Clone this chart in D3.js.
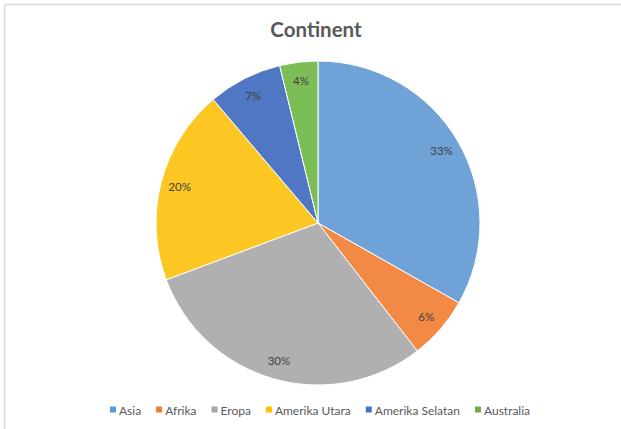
<!DOCTYPE html>
<html>
<head>
<meta charset="utf-8">
<script src="https://cdn.jsdelivr.net/npm/d3@7"></script>
<style>
  html, body { margin: 0; padding: 0; background: #fff; }
  svg { display: block; font-family: Lato, "Open Sans", sans-serif; }
</style>
</head>
<body>
<svg id="chart" width="621" height="429"></svg>
<script>
// data (share of the pie, in percent)
const continents = ['Asia', 'Afrika', 'Eropa', 'Amerika Utara', 'Amerika Selatan', 'Australia'];
const shares = [33.2, 6.3, 29.8, 19.5, 7.4, 3.8];
const light = ['#6fa3d8', '#f28a45', '#b0b0b0', '#fcc623', '#4f77c3', '#7dbd55'];
const dark = ['#4583c3', '#e36e22', '#979797', '#eebb00', '#3a61ab', '#62a33c'];
const swatch = ['#5b9bd5', '#ed7d31', '#a5a5a5', '#ffc000', '#4472c4', '#70ad47'];

const W = 621, H = 429;
const CX = 318, CY = 223, R = 162;

const svg = d3.select('#chart');

// light frame on top and left, like the cropped screenshot
svg.append('line').attr('x1', 4.5).attr('y1', 4.5).attr('x2', W).attr('y2', 4.5)
    .attr('stroke', '#d9d9d9').attr('stroke-width', 1.5);
svg.append('line').attr('x1', 4.5).attr('y1', 4.5).attr('x2', 4.5).attr('y2', H)
    .attr('stroke', '#d9d9d9').attr('stroke-width', 1.5);

svg.append('text')
    .attr('x', 316).attr('y', 37)
    .attr('text-anchor', 'middle')
    .attr('font-size', 20.5).attr('font-weight', 700)
    .attr('fill', '#595959')
    .text('Continent');

const data = continents.map((name, i) => ({name, value: shares[i], i}));
const total = d3.sum(shares);

// soft top-left to bottom-right shading on every slice
const defs = svg.append('defs');
data.forEach(d => {
    let g = defs.append('linearGradient')
        .attr('id', 'g' + d.i)
        .attr('gradientUnits', 'userSpaceOnUse')
        .attr('x1', CX - R * 0.7).attr('y1', CY - R * 0.7)
        .attr('x2', CX + R * 0.7).attr('y2', CY + R * 0.7);
    g.append('stop').attr('offset', '0%').attr('stop-color', light[d.i]);
    g.append('stop').attr('offset', '100%').attr('stop-color', dark[d.i]);
});

const pie = d3.pie().sort(null).value(d => d.value);
const arc = d3.arc().innerRadius(0).outerRadius(R);
const labelArc = d3.arc().innerRadius(143).outerRadius(143);

const slices = svg.append('g').attr('transform', `translate(${CX},${CY})`);
const arcs = pie(data);

slices.selectAll('path')
    .data(arcs)
    .join('path')
    .attr('d', arc)
    .attr('fill', d => `url(#g${d.data.i})`)
    .attr('stroke', '#fff')
    .attr('stroke-width', 1);

slices.selectAll('text')
    .data(arcs)
    .join('text')
    .attr('transform', d => `translate(${labelArc.centroid(d)})`)
    .attr('text-anchor', 'middle')
    .attr('dy', '0.35em')
    .attr('font-size', 11.5)
    .attr('fill', '#404040')
    .text(d => d3.format('.0%')(d.data.value / total));

// legend, laid out from measured text widths and centred under the pie
const legend = svg.append('g');
const items = legend.selectAll('g')
    .data(data)
    .join('g');
items.append('rect')
    .attr('width', 6).attr('height', 6)
    .attr('y', 406.5)
    .attr('fill', d => swatch[d.i]);
items.append('text')
    .attr('x', 9).attr('y', 414.5)
    .attr('font-size', 12)
    .attr('fill', '#595959')
    .text(d => d.name);

let x = 0;
const gap = 15;
items.each(function() {
    let g = d3.select(this);
    g.attr('transform', `translate(${x},0)`);
    x += 9 + g.select('text').node().getComputedTextLength() + gap;
});
const legendWidth = x - gap;
legend.attr('transform', `translate(${320 - legendWidth / 2},0)`);
</script>
</body>
</html>
